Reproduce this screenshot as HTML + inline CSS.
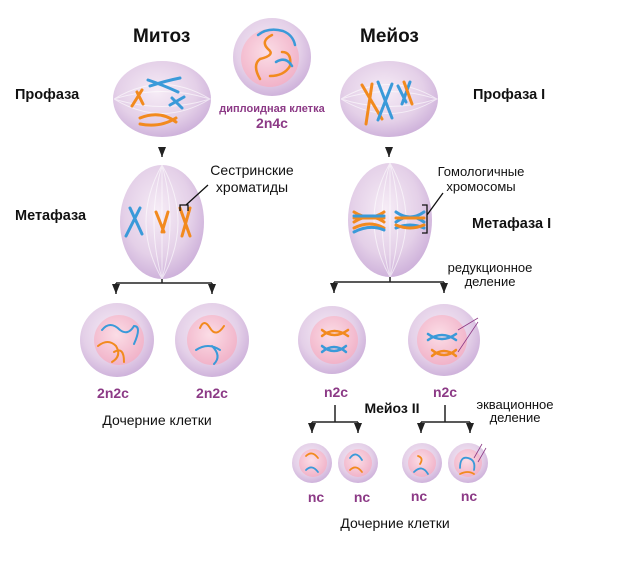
<!DOCTYPE html>
<html><head><meta charset="utf-8"><style>
html,body{margin:0;padding:0;background:#fff;}
svg{display:block;font-family:"Liberation Sans",sans-serif;}
.h{font-weight:bold;font-size:19px;fill:#111}
.p{font-weight:bold;font-size:14.5px;fill:#111}
.t{font-size:14px;fill:#111}
.m{font-weight:bold;font-size:14px;fill:#8c3a86}
</style></head><body>
<svg width="620" height="563" viewBox="0 0 620 563" xmlns="http://www.w3.org/2000/svg">
<defs>
<radialGradient id="cell" cx="45%" cy="40%" r="62%">
<stop offset="0" stop-color="#f6ecf6"/><stop offset="0.65" stop-color="#e4d0e8"/><stop offset="1" stop-color="#cdb0da"/></radialGradient>
<radialGradient id="nuc" cx="45%" cy="40%" r="60%">
<stop offset="0" stop-color="#fbdde6"/><stop offset="1" stop-color="#f1b3c9"/></radialGradient>
<marker id="d" viewBox="0 0 8 10" markerWidth="8" markerHeight="10" refX="4" refY="10" markerUnits="userSpaceOnUse"><path d="M0,0 L8,0 L4,10z" fill="#222"/></marker>
</defs>

<circle cx="272" cy="57" r="39" fill="url(#cell)"/>
<circle cx="270" cy="58" r="29" fill="url(#nuc)"/>
<g fill="none" stroke-width="2.5" stroke-linecap="round">
<path d="M258,35 q10,-8 25,-4 q10,4 12,14" stroke="#3a9ad9"/>
<path d="M272,35 q-12,6 -4,14 q8,6 -8,10 q-8,6 0,20" stroke="#f28a1e"/>
<path d="M282,52 q10,0 8,14 q-6,10 -20,10" stroke="#f28a1e"/>
<path d="M276,62 q10,-6 16,4" stroke="#3a9ad9"/>
</g>

<ellipse cx="162" cy="99" rx="49" ry="38" fill="url(#cell)"/>
<ellipse cx="389" cy="99" rx="49" ry="38" fill="url(#cell)"/>
<g stroke="#fff" stroke-opacity=".6" fill="none">
<path d="M114,99 Q162,70 210,99 Q162,128 114,99 M114,99 Q162,84 210,99 Q162,114 114,99"/>
<path d="M341,99 Q389,70 437,99 Q389,128 341,99 M341,99 Q389,84 437,99 Q389,114 341,99"/>
</g>
<g fill="none" stroke-width="3" stroke-linecap="round">
<path d="M148,80 q15,5 30,12" stroke="#3a9ad9"/><path d="M150,86 q15,-5 30,-8" stroke="#3a9ad9"/>
<path d="M142,90 l-10,16 M137,92 l6,12" stroke="#f28a1e"/>
<path d="M170,105 l14,-8 M172,98 l10,10" stroke="#3a9ad9"/>
<path d="M140,118 q20,-8 36,4 M140,124 q20,4 36,-6" stroke="#f28a1e"/>
<path d="M362,85 l20,34 M372,84 l-6,40" stroke="#f28a1e"/>
<path d="M378,82 l14,36 M392,84 l-14,36" stroke="#3a9ad9"/>
<path d="M398,86 l8,16 M410,82 l-8,22" stroke="#3a9ad9"/><path d="M404,82 l8,22" stroke="#f28a1e"/>
</g>

<ellipse cx="162" cy="222" rx="42" ry="57" fill="url(#cell)"/>
<ellipse cx="390" cy="220" rx="42" ry="57" fill="url(#cell)"/>
<g stroke="#fff" stroke-opacity=".6" fill="none">
<path d="M162,165 Q130,222 162,279 Q194,222 162,165 M162,165 Q146,222 162,279 Q178,222 162,165 M162,165 V279"/>
<path d="M390,163 Q358,220 390,277 Q422,220 390,163 M390,163 Q374,220 390,277 Q406,220 390,163 M390,163 V277"/>
</g>
<g fill="none" stroke-width="3" stroke-linecap="round">
<path d="M140,208 l-14,28 M130,208 l12,26" stroke="#3a9ad9"/>
<path d="M156,212 l8,20 M168,212 l-6,20" stroke="#f28a1e"/>
<path d="M180,208 l10,28 M190,208 l-8,28" stroke="#f28a1e"/>
<path d="M354,212 q16,10 30,0 M354,222 q16,-10 30,0 M354,218 h30 M354,228 q16,-8 30,0" stroke="#f28a1e"/>
<path d="M354,216 h30 M354,232 q16,-8 30,-2" stroke="#3a9ad9"/>
<path d="M396,212 q14,10 28,0 M396,222 q14,-10 28,0 M396,228 q14,-6 28,0" stroke="#3a9ad9"/>
<path d="M396,218 h28 M396,225 q14,6 28,0" stroke="#f28a1e"/>
</g>
<path d="M180,211 v-6 h8 v6 M186,205 l22,-20" fill="none" stroke="#111" stroke-width="1.3"/>
<path d="M422,205 h5 v28 h-5 M427,215 l16,-22" fill="none" stroke="#111" stroke-width="1.3"/>

<circle cx="117" cy="340" r="37" fill="url(#cell)"/><circle cx="119" cy="340" r="25" fill="url(#nuc)"/>
<circle cx="212" cy="340" r="37" fill="url(#cell)"/><circle cx="212" cy="340" r="25" fill="url(#nuc)"/>
<g fill="none" stroke-width="2" stroke-linecap="round">
<path d="M102,330 q8,-10 18,0 q8,6 14,-4 q8,0 0,18" stroke="#3a9ad9"/>
<path d="M98,346 q10,-8 18,0 q6,10 -4,16 M114,352 q10,-6 10,10" stroke="#f28a1e"/>
<path d="M200,328 q4,-10 10,0 q6,10 14,-2" stroke="#f28a1e"/>
<path d="M196,350 q12,-8 24,0 M212,346 q10,10 2,18" stroke="#3a9ad9"/>
</g>

<circle cx="332" cy="340" r="34" fill="url(#cell)"/><circle cx="334" cy="340" r="24" fill="url(#nuc)"/>
<circle cx="444" cy="340" r="36" fill="url(#cell)"/><circle cx="442" cy="340" r="25" fill="url(#nuc)"/>
<g fill="none" stroke-width="2.5" stroke-linecap="round">
<path d="M322,330 q12,10 26,0 M322,336 q12,-10 26,0" stroke="#f28a1e"/>
<path d="M322,346 q12,10 24,0 M322,352 q12,-10 24,0" stroke="#3a9ad9"/>
<path d="M428,334 q14,10 28,0 M428,340 q14,-10 28,0" stroke="#3a9ad9"/>
<path d="M432,350 q12,10 24,0 M432,356 q12,-10 24,0" stroke="#f28a1e"/>
</g>
<path d="M458,330 l20,-12 M458,352 l20,-30" stroke="#8c3a86" stroke-width="0.8" fill="none"/>

<g>
<circle cx="312" cy="463" r="20" fill="url(#cell)"/><circle cx="313" cy="463" r="14" fill="url(#nuc)"/>
<circle cx="358" cy="463" r="20" fill="url(#cell)"/><circle cx="358" cy="463" r="14" fill="url(#nuc)"/>
<circle cx="422" cy="463" r="20" fill="url(#cell)"/><circle cx="422" cy="463" r="14" fill="url(#nuc)"/>
<circle cx="468" cy="463" r="20" fill="url(#cell)"/><circle cx="468" cy="463" r="14" fill="url(#nuc)"/>
</g>
<g fill="none" stroke-width="1.8" stroke-linecap="round">
<path d="M306,456 q6,-6 12,2" stroke="#f28a1e"/><path d="M306,470 q6,-6 12,2" stroke="#3a9ad9"/>
<path d="M350,458 q6,-8 12,2" stroke="#3a9ad9"/><path d="M350,470 q6,-6 12,2" stroke="#f28a1e"/>
<path d="M418,456 q6,2 2,8" stroke="#f28a1e"/><path d="M414,472 q8,-8 14,2" stroke="#3a9ad9"/>
<path d="M460,468 q0,-12 8,-10 q8,2 6,12" stroke="#3a9ad9"/><path d="M460,474 q8,-4 14,0" stroke="#f28a1e"/>
</g>
<path d="M474,458 l8,-14 M478,462 l8,-14" stroke="#8c3a86" stroke-width="0.8"/>

<g stroke="#222" stroke-width="1.5" fill="none">
<path d="M162,150 v7" marker-end="url(#d)"/>
<path d="M389,150 v7" marker-end="url(#d)"/>
<path d="M162,279 v4 M116,283 h96"/>
<path d="M116,283 v11" marker-end="url(#d)"/><path d="M212,283 v11" marker-end="url(#d)"/>
<path d="M390,277 v5 M334,282 h110"/>
<path d="M334,282 v11" marker-end="url(#d)"/><path d="M444,282 v11" marker-end="url(#d)"/>
<path d="M335,405 v17 M312,422 h46"/>
<path d="M312,422 v11" marker-end="url(#d)"/><path d="M358,422 v11" marker-end="url(#d)"/>
<path d="M445,405 v17 M421,422 h49"/>
<path d="M421,422 v11" marker-end="url(#d)"/><path d="M470,422 v11" marker-end="url(#d)"/>
</g>

<text x="133" y="42" class="h">Митоз</text>
<text x="360" y="42" class="h">Мейоз</text>
<text x="15" y="99" class="p">Профаза</text>
<text x="15" y="220" class="p">Метафаза</text>
<text x="473" y="99" class="p">Профаза I</text>
<text x="472" y="228" class="p">Метафаза I</text>
<text x="272" y="112" text-anchor="middle" style="font-weight:bold;font-size:11px;fill:#8c3a86">диплоидная клетка</text>
<text x="272" y="128" text-anchor="middle" class="m">2n4c</text>
<text x="252" y="175" text-anchor="middle" class="t">Сестринские</text>
<text x="252" y="192" text-anchor="middle" class="t">хроматиды</text>
<text x="481" y="176" text-anchor="middle" style="font-size:13px;fill:#111">Гомологичные</text>
<text x="481" y="191" text-anchor="middle" style="font-size:13px;fill:#111">хромосомы</text>
<text x="490" y="272" text-anchor="middle" style="font-size:13px;fill:#111">редукционное</text>
<text x="490" y="286" text-anchor="middle" style="font-size:13px;fill:#111">деление</text>
<text x="113" y="398" text-anchor="middle" class="m">2n2c</text>
<text x="212" y="398" text-anchor="middle" class="m">2n2c</text>
<text x="336" y="397" text-anchor="middle" class="m">n2c</text>
<text x="445" y="397" text-anchor="middle" class="m">n2c</text>
<text x="157" y="425" text-anchor="middle" class="t">Дочерние клетки</text>
<text x="392" y="413" text-anchor="middle" style="font-weight:bold;font-size:14px;fill:#111">Мейоз II</text>
<text x="515" y="409" text-anchor="middle" style="font-size:13px;fill:#111">эквационное</text>
<text x="515" y="422" text-anchor="middle" style="font-size:13px;fill:#111">деление</text>
<text x="316" y="502" text-anchor="middle" class="m">nc</text>
<text x="362" y="502" text-anchor="middle" class="m">nc</text>
<text x="419" y="501" text-anchor="middle" class="m">nc</text>
<text x="469" y="501" text-anchor="middle" class="m">nc</text>
<text x="395" y="528" text-anchor="middle" class="t">Дочерние клетки</text>
</svg>
</body></html>
